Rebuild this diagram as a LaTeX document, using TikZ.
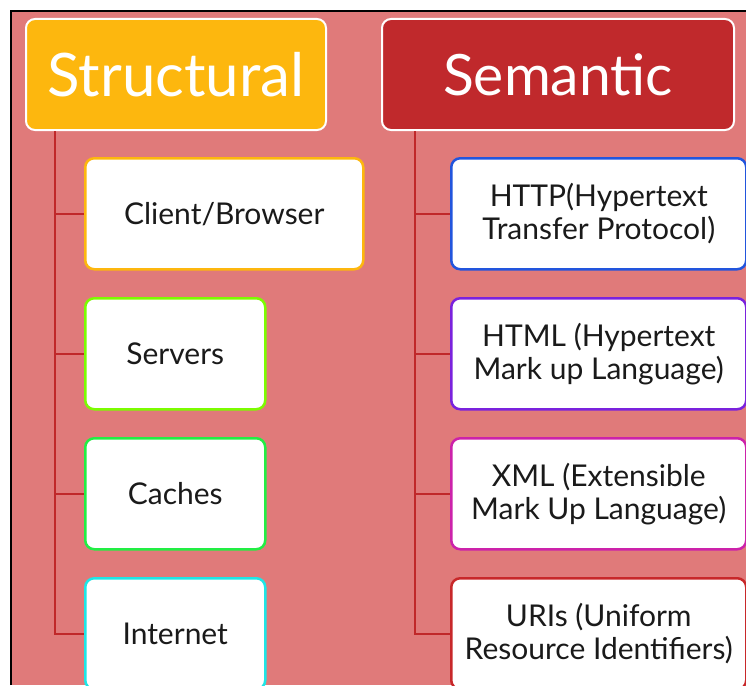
\documentclass[tikz,border=0pt]{standalone}
\usepackage{fontspec}
\setmainfont{Lato}
\definecolor{bgsalmon}{HTML}{E07A7A}
\definecolor{headorange}{HTML}{FDB70E}
\definecolor{headred}{HTML}{C0292C}
\definecolor{linkred}{HTML}{C0282A}
\definecolor{cserv}{HTML}{7CFC00}
\definecolor{ccache}{HTML}{22EE44}
\definecolor{cnet}{HTML}{1EE6E6}
\definecolor{chttp}{HTML}{2255DD}
\definecolor{chtml}{HTML}{7A22DD}
\definecolor{cxml}{HTML}{CC22AA}
\definecolor{curi}{HTML}{C8282A}
\definecolor{txt}{HTML}{1A1A1A}
\begin{document}
\begin{tikzpicture}[x=1pt,y=-1pt,
  head/.style={rectangle, rounded corners=9pt, draw=white, line width=2pt, text=white,
    anchor=north west, inner sep=0pt},
  item/.style={rectangle, rounded corners=9pt, fill=white, line width=2.5pt,
    font=\fontsize{30}{33}\selectfont, align=center, anchor=north west, inner sep=0pt, text=txt},
  link/.style={draw=linkred, line width=2.3pt}]
\useasboundingbox (0,0) rectangle (746,685);
\fill[white] (0,0) rectangle (746,685);
\fill[bgsalmon] (11,12) rectangle (746,685);
\draw[black, line width=2pt] (11,685) -- (11,11) -- (746,11);

\node[head, fill=headorange, minimum width=300pt, minimum height=111pt, font=\fontsize{60}{66}\selectfont] (struct) at (25,18) {Structural};
\node[head, fill=headred, minimum width=352pt, minimum height=111pt, font=\fontsize{57}{63}\selectfont] (sem) at (381,18) {Semantic};

\node[item, draw=headorange, minimum width=278pt, minimum height=111pt] (client) at (84,157) {Client/Browser};
\node[item, draw=cserv, minimum width=180pt, minimum height=111pt] (serv) at (84,297) {Servers};
\node[item, draw=ccache, minimum width=180pt, minimum height=111pt] (cache) at (84,437) {Caches};
\node[item, draw=cnet, minimum width=180pt, minimum height=111pt] (net) at (84,577) {Internet};

\node[item, draw=chttp, minimum width=295pt, minimum height=111pt] (http) at (450,157) {HTTP(Hypertext\\Transfer Protocol)};
\node[item, draw=chtml, minimum width=295pt, minimum height=111pt] (html) at (450,297) {HTML (Hypertext\\Mark up Language)};
\node[item, draw=cxml, minimum width=295pt, minimum height=111pt] (xml) at (450,437) {XML (Extensible\\Mark Up Language)};
\node[item, draw=curi, minimum width=295pt, minimum height=111pt] (uri) at (450,577) {URIs (Uniform\\Resource Identifiers)};

\coordinate (sx) at ([xshift=30pt]struct.south west);
\coordinate (mx) at ([xshift=34pt]sem.south west);
\draw[link] (sx) |- (net.west);
\draw[link] (client.west) -- (client.west -| sx);
\draw[link] (serv.west) -- (serv.west -| sx);
\draw[link] (cache.west) -- (cache.west -| sx);
\draw[link] (mx) |- (uri.west);
\draw[link] (http.west) -- (http.west -| mx);
\draw[link] (html.west) -- (html.west -| mx);
\draw[link] (xml.west) -- (xml.west -| mx);
\end{tikzpicture}
\end{document}
